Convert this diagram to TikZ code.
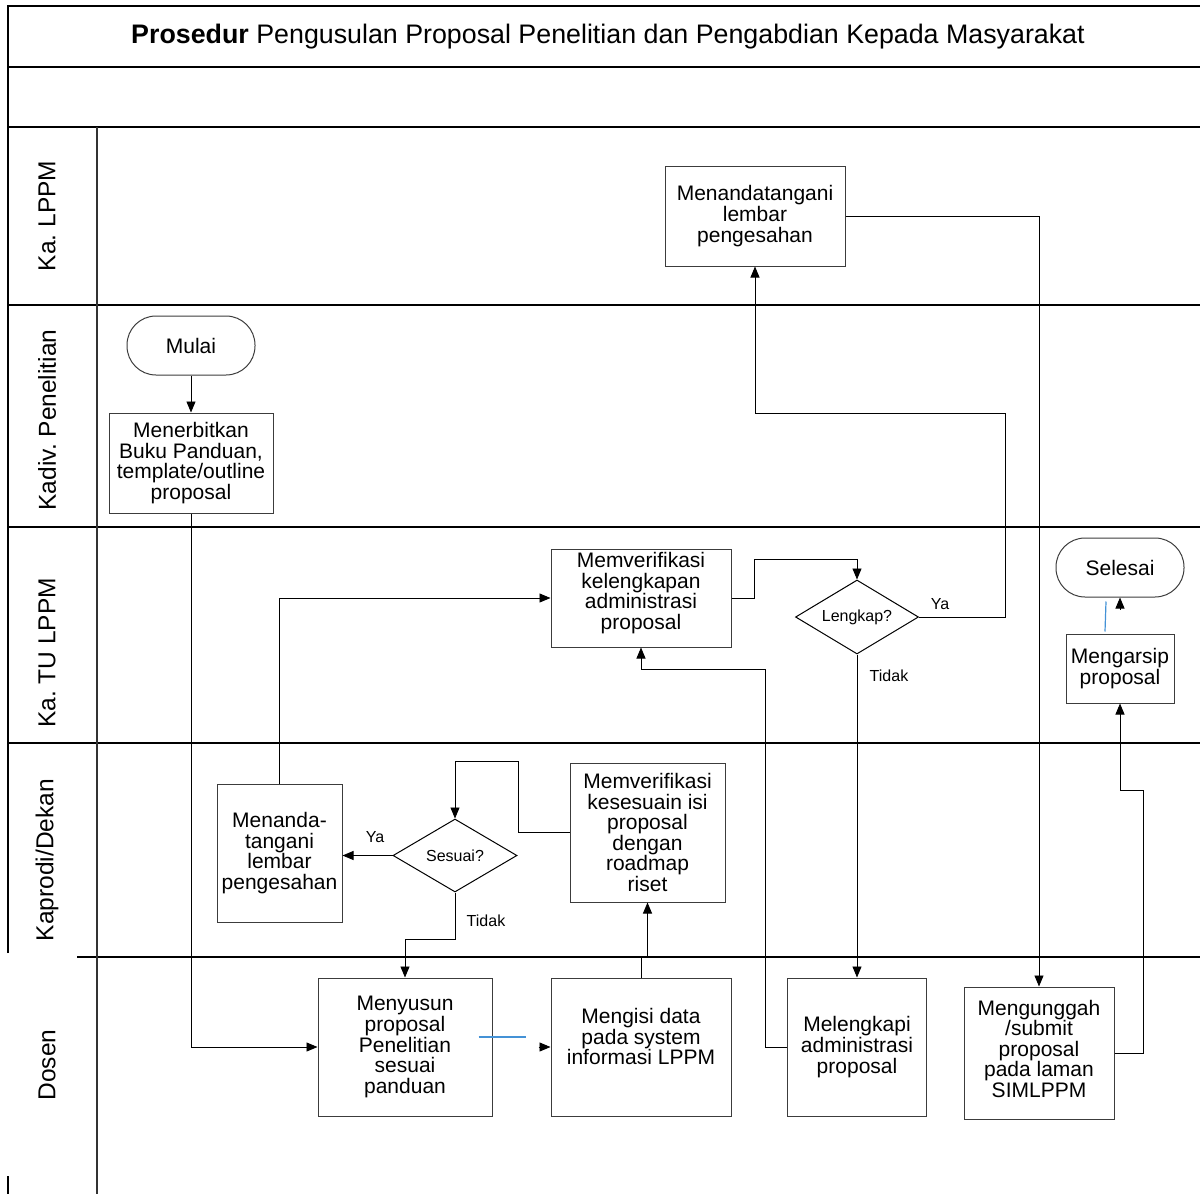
\documentclass[tikz,border=0pt]{standalone}
\usepackage{fontspec}
\setmainfont{Liberation Sans}
\usetikzlibrary{arrows.meta,shapes.geometric,calc}
\definecolor{lineblue}{RGB}{68,146,214}
\definecolor{boxgray}{RGB}{60,60,60}
\begin{document}
\begin{tikzpicture}[x=1pt,y=-1pt,
  lane/.style={line width=1.4pt,black},
  procbox/.style={draw=boxgray,line width=1pt,rectangle,align=center,inner sep=0pt,font=\fontsize{21}{20.6}\selectfont},
  termbox/.style={draw=boxgray,line width=1pt,rounded corners=29pt,align=center,inner sep=0pt,minimum width=128pt,minimum height=59pt,font=\fontsize{21}{21}\selectfont},
  decbox/.style={draw=black,line width=1pt,diamond,aspect=1.68,inner sep=0pt,font=\fontsize{16}{16}\selectfont},
  lanelabel/.style={rotate=90,font=\fontsize{24.5}{24.5}\selectfont},
  small/.style={font=\fontsize{16}{16}\selectfont,inner sep=0pt},
  arr/.style={line width=0.9pt,black,-{Triangle[length=11pt,width=9pt]}},
  conn/.style={line width=0.9pt,black}
]
\useasboundingbox (0,0) rectangle (1200,1194);
% frame and lanes
\draw[lane] (8,953) -- (8,6) -- (1200,6);
\draw[lane] (8,67) -- (1200,67);
\draw[lane] (8,127) -- (1200,127);
\draw[lane] (8,305) -- (1200,305);
\draw[lane] (8,527) -- (1200,527);
\draw[lane] (8,743) -- (1200,743);
\draw[lane] (77,957) -- (1200,957);
\draw[lane] (8,1176) -- (8,1194);
\draw[line width=1.2pt,black!80] (97,127) -- (97,1194);
% title
\node[font=\fontsize{26.8}{26.8}\selectfont] (title) at (608,37) {\textbf{Prosedur} Pengusulan Proposal Penelitian dan Pengabdian Kepada Masyarakat};
% lane labels
\node[lanelabel] (l1) at (47,216) {Ka.\ LPPM};
\node[lanelabel] (l2) at (47,420) {Kadiv.\ Penelitian};
\node[lanelabel] (l3) at (47,653) {Ka.\ TU LPPM};
\node[lanelabel] (l4) at (47,860) {Kaprodi/Dekan};
\node[lanelabel] (l5) at (47,1065) {Dosen};
% nodes
\node[termbox] (mulai) at (191,345.5) {Mulai};
\node[procbox,minimum width=164pt,minimum height=100pt] (menerbit) at (191,463) {Menerbitkan\\Buku Panduan,\\template/outline\\proposal};
\node[procbox,minimum width=180pt,minimum height=100pt] (ttdlppm) at (755,216) {Menandatangani\\lembar\\pengesahan};
\node[procbox,minimum width=180pt,minimum height=98pt] (verif) at (641,598) {Memverifikasi\\kelengkapan\\administrasi\\proposal\\[-6pt]\mbox{}};
\node[decbox,minimum width=123pt,minimum height=74pt] (lengkap) at (857,617) {Lengkap?};
\node[termbox] (selesai) at (1120,567.5) {Selesai};
\node[procbox,minimum width=108pt,minimum height=69pt] (arsip) at (1120,668.5) {Mengarsip\\proposal};
\node[procbox,minimum width=125pt,minimum height=138pt] (ttdkap) at (279.5,853) {Menanda-\\tangani\\lembar\\pengesahan};
\node[decbox,minimum width=124pt,minimum height=73pt] (sesuai) at (455,855.5) {Sesuai?};
\node[procbox,minimum width=155pt,minimum height=139pt] (roadmap) at (647.5,832.5) {Memverifikasi\\kesesuain isi\\proposal\\dengan\\roadmap\\riset};
\node[procbox,minimum width=174pt,minimum height=138pt] (susun) at (405,1047) {Menyusun\\proposal\\Penelitian\\sesuai\\panduan};
\node[procbox,minimum width=180pt,minimum height=138pt] (isi) at (641,1047) {Mengisi data\\pada system\\informasi LPPM\\ \mbox{}};
\node[procbox,minimum width=139pt,minimum height=138pt] (lengkapi) at (857,1047) {Melengkapi\\administrasi\\proposal};
\node[procbox,minimum width=150pt,minimum height=132pt] (unggah) at (1039,1053) {Mengunggah\\/submit\\proposal\\pada laman\\SIMLPPM\\[-12pt]\mbox{}};
% connectors
\draw[arr] (mulai) -- (menerbit);
\draw[arr] (menerbit.south) |- (susun.west);
\draw[line width=1.2pt,lineblue] ($(susun.east)+(-14,-10)$) -- ($(susun.east)+(33,-10)$);
\draw[arr] ($(isi.west)+(-12,0)$) -- (isi.west);
\draw[arr] (isi.north) -- ++(0,-21) -| (roadmap.south);
\draw[arr] (roadmap.west) -| (518,761) -| (sesuai.north);
\draw[arr] (sesuai.west) -- (ttdkap.east |- sesuai.west);
\node[small] (ya1) at (375,837) {Ya};
\draw[arr] (sesuai.south) |- (405,939) -- (susun.north);
\node[small] (tidak1) at (486,921) {Tidak};
\draw[arr] (ttdkap.north) |- (verif.west);
\draw[arr] (verif.east) -| (754,559) -| (lengkap.north);
\draw[arr] (lengkap.east) -| (1005,413) -| (ttdlppm.south);
\node[small] (ya2) at (940,604) {Ya};
\draw[arr] (lengkap.south) -- (lengkapi.north);
\node[small] (tidak2) at (889,676) {Tidak};
\draw[arr] (lengkapi.west) -| (765,669) -| (verif.south);
\draw[arr] (ttdlppm.east) -| (unggah.north);
\draw[arr] (unggah.east) -| (1143,790) -| (arsip.south);
\draw[line width=1.2pt,lineblue] ($(arsip.north)+(-15,-2)$) -- ($(selesai.south)+(-14,4)$);
\draw[arr] ($(selesai.south)+(0,12)$) -- (selesai.south);
\end{tikzpicture}
\end{document}
